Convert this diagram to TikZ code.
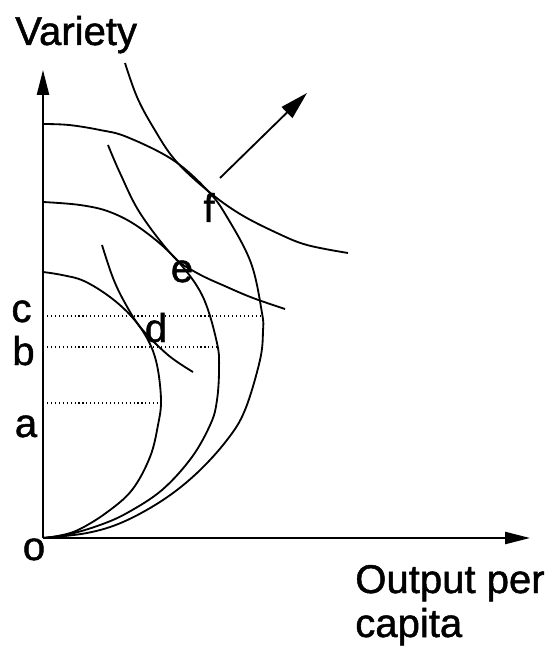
\documentclass[tikz,border=0pt]{standalone}
\usepackage{fontspec}
\setmainfont{Liberation Sans}[FakeBold=1.2]
\usetikzlibrary{arrows.meta, positioning}

\begin{document}
\begin{tikzpicture}[
          x=0.025cm, y=-0.025cm,
          axis/.style={line width=1.5pt, -{Triangle[length=0.62cm, width=0.3cm]}},
          growth/.style={line width=1.3pt, -{Triangle[length=0.7cm, width=0.38cm]}},
          ppf/.style={line width=1.3pt, smooth, tension=0.6},
          indiff/.style={line width=1.3pt, smooth, tension=0.6},
          level/.style={dotted, line width=0.8pt},
          lbl/.style={inner sep=0pt, font=\fontsize{28.5}{31}\selectfont},
        ]
        \useasboundingbox (0,0) rectangle (553,648);
        % axes
        \coordinate (o) at (43,538);
        \coordinate (ytip) at (43,70);
        \coordinate (xtip) at (530,538);
        \draw[axis] (o) -- (ytip);
        \draw[axis] (o) -- (xtip);
        % levels on the variety axis
        \coordinate (c0) at (43,316);  \coordinate (c1) at (262,316);
        \coordinate (b0) at (43,347);  \coordinate (b1) at (217,347);
        \coordinate (a0) at (43,403);  \coordinate (a1) at (165,403);
        \draw[level] (c0) -- (c1);
        \draw[level] (b0) -- (b1);
        \draw[level] (a0) -- (a1);
        % frontiers
        \draw[ppf] plot coordinates {(o) (58,536) (78,530) (106,513) (132,490) (150,457)
          (158,425) (161,400) (157,365) (148,340) (132,317) (110,297) (84,281) (62,275) (43,272)};
        \draw[ppf] plot coordinates {(o) (70,534) (100,525) (127,513) (162,490) (192,457)
          (211,423) (217,400) (219,370) (217,343) (202,295) (174,257) (140,228) (110,212) (80,205) (43,202)};
        \draw[ppf] plot coordinates {(o) (87,533) (123,522) (163,500) (197,473) (227,440)
          (245,410) (260,360) (263,331) (262,313) (251,263) (227,217) (208,191) (173,160)
          (127,137) (100,130) (69,125) (43,124)};
        % indifference curves
        \draw[indiff] plot coordinates {(102,245) (113,278) (125,303) (141,328) (168,355) (193,372)};
        \draw[indiff] plot coordinates {(108,145) (120,173) (140,213) (173,256) (197,273) (227,287) (253,298) (285,309)};
        \draw[indiff] plot coordinates {(125,63) (137,97) (153,127) (175,160) (208,191) (240,214) (277,233) (307,245) (348,253)};
        % direction of growth
        \coordinate (g0) at (220,178);
        \coordinate (g1) at (307,93);
        \draw[growth] (g0) -- (g1);
        % labels
        \node[lbl, anchor=base west] (variety) at (15,45) {Variety};
        \node[lbl, anchor=base] (olbl) at (34,560) {o};
        \node[lbl, anchor=base] (albl) at (26,437) {a};
        \node[lbl, anchor=base] (blbl) at (23.5,365) {b};
        \node[lbl, anchor=base] (clbl) at (21.5,322) {c};
        \node[lbl, anchor=base] (dlbl) at (156,342) {d};
        \node[lbl, anchor=base] (elbl) at (182,282) {e};
        \node[lbl, anchor=base] (flbl) at (209,222) {f};
        \node[lbl, anchor=base west] (output) at (355,593) {Output per};
        \node[lbl, anchor=base west] (capita) at (355,637) {capita};
      \end{tikzpicture}
\end{document}
